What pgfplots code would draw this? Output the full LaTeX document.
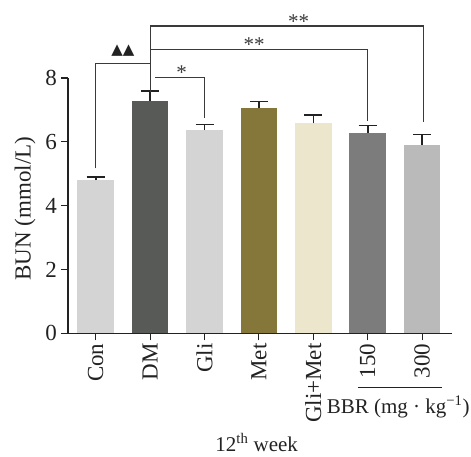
\documentclass[border=0pt]{standalone}
\usepackage{pgfplots}
\pgfplotsset{compat=1.18}
\usepackage{fontspec}
\setmainfont{Liberation Serif}
\newfontfamily\sym{DejaVu Sans}
\definecolor{cCon}{HTML}{D4D4D4}
\definecolor{cDM}{HTML}{585A58}
\definecolor{cGli}{HTML}{D4D4D4}
\definecolor{cMet}{HTML}{85763A}
\definecolor{cGM}{HTML}{ECE6CC}
\definecolor{cB150}{HTML}{7B7C7B}
\definecolor{cB300}{HTML}{BBBABB}
\definecolor{txt}{HTML}{222222}
\definecolor{brk}{HTML}{3A3A3A}
\begin{document}
\begin{tikzpicture}[font=\fontsize{21}{25}\selectfont, text=txt]
\path[use as bounding box] (-68pt,-122.7pt) rectangle (403pt,333.3pt);
\begin{axis}[
  scale only axis, width=384pt, height=255.3pt,
  xmin=-0.51, xmax=6.55, ymin=0, ymax=8,
  clip=false,
  axis x line*=bottom, axis y line*=left,
  axis line style={line width=1.1pt, txt},
  every tick/.style={line width=1.1pt, txt},
  tick align=outside, major tick length=7pt,
  xtick={0,1,2,3,4,5,6},
  xticklabels={Con,DM,Gli,Met,Gli+Met,150,300},
  xticklabel style={rotate=90, anchor=east, inner sep=3pt},
  ytick={0,2,4,6,8},
  yticklabel style={inner sep=4pt},
  /pgf/number format/assume math mode=true,
  ylabel={BUN (mmol/L)},
  ylabel style={at={(axis description cs:-0.112,0.488)}, anchor=center, font=\fontsize{23}{26}\selectfont},
  tick label style={font=\fontsize{23}{26}\selectfont},
]
\addplot[ybar, bar width=36.7pt, bar shift=0pt, fill=cCon, draw=none,
  error bars/.cd, y dir=plus, y explicit,
  error bar style={line width=1.6pt, txt},
  error mark options={rotate=90, mark size=9pt, line width=1.6pt, txt}]
  coordinates {(0,4.80) +- (0,0.09)};
\addplot[ybar, bar width=36.7pt, bar shift=0pt, fill=cDM, draw=none,
  error bars/.cd, y dir=plus, y explicit,
  error bar style={line width=1.6pt, txt},
  error mark options={rotate=90, mark size=9pt, line width=1.6pt, txt}]
  coordinates {(1,7.28) +- (0,0.32)};
\addplot[ybar, bar width=36.7pt, bar shift=0pt, fill=cGli, draw=none,
  error bars/.cd, y dir=plus, y explicit,
  error bar style={line width=1.6pt, txt},
  error mark options={rotate=90, mark size=9pt, line width=1.6pt, txt}]
  coordinates {(2,6.37) +- (0,0.17)};
\addplot[ybar, bar width=36.7pt, bar shift=0pt, fill=cMet, draw=none,
  error bars/.cd, y dir=plus, y explicit,
  error bar style={line width=1.6pt, txt},
  error mark options={rotate=90, mark size=9pt, line width=1.6pt, txt}]
  coordinates {(3,7.06) +- (0,0.20)};
\addplot[ybar, bar width=36.7pt, bar shift=0pt, fill=cGM, draw=none,
  error bars/.cd, y dir=plus, y explicit,
  error bar style={line width=1.6pt, txt},
  error mark options={rotate=90, mark size=9pt, line width=1.6pt, txt}]
  coordinates {(4,6.59) +- (0,0.26)};
\addplot[ybar, bar width=36.7pt, bar shift=0pt, fill=cB150, draw=none,
  error bars/.cd, y dir=plus, y explicit,
  error bar style={line width=1.6pt, txt},
  error mark options={rotate=90, mark size=9pt, line width=1.6pt, txt}]
  coordinates {(5,6.28) +- (0,0.23)};
\addplot[ybar, bar width=36.7pt, bar shift=0pt, fill=cB300, draw=none,
  error bars/.cd, y dir=plus, y explicit,
  error bar style={line width=1.6pt, txt},
  error mark options={rotate=90, mark size=9pt, line width=1.6pt, txt}]
  coordinates {(6,5.90) +- (0,0.33)};
% significance brackets
\addplot[brk, line width=1.1pt, mark=none] coordinates {(0,5.17) (0,8.46) (1,8.46)};
\addplot[brk, line width=1.1pt, mark=none] coordinates {(1,7.56) (1,9.63)};
\addplot[brk, line width=1.1pt, mark=none] coordinates {(1,9.63) (6.02,9.63) (6.02,6.63)};
\addplot[brk, line width=1.1pt, mark=none] coordinates {(1,8.88) (4.99,8.88) (4.99,6.66)};
\addplot[brk, line width=1.1pt, mark=none] coordinates {(1.09,8.01) (2.0,8.01) (2.0,6.74)};
\node[text=brk] at (axis cs:3.73,9.78) {**};
\node[text=brk] at (axis cs:2.91,9.04) {**};
\node[text=brk] at (axis cs:1.58,8.17) {*};
\node[text=txt, font=\sym\fontsize{15}{17}\selectfont] at (axis cs:0.5,8.85) {▲▲};
% group label
\addplot[txt, line width=1.1pt, mark=none] coordinates {(4.82,-1.705) (6.375,-1.705)};
\node[text=txt] at (axis cs:5.56,-2.3) {BBR (mg · kg\textsuperscript{−1})};
\node[text=txt] at (axis cs:2.96,-3.42) {12\textsuperscript{th} week};
\end{axis}
\end{tikzpicture}
\end{document}
